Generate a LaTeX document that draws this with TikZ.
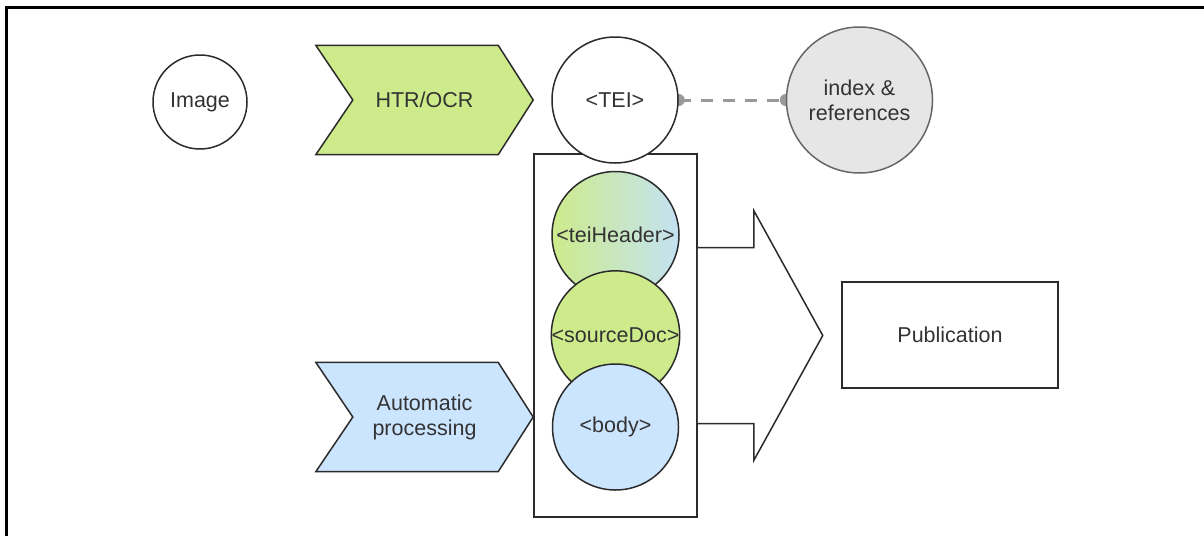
\documentclass[tikz,border=0pt]{standalone}
\usepackage{fontspec}
\setmainfont{Liberation Sans}
\usetikzlibrary{calc,backgrounds}
\definecolor{grn}{HTML}{CDEB8B}
\definecolor{blu}{HTML}{CCE5FF}
\definecolor{hblu}{HTML}{C4E2F2}
\definecolor{gry}{HTML}{E6E6E6}
\definecolor{txt}{HTML}{333333}
\definecolor{edge}{HTML}{2B2B2B}
\definecolor{gedge}{HTML}{666666}
\definecolor{dashc}{HTML}{999999}
\begin{document}
\begin{tikzpicture}[x=1pt,y=-1pt,line join=miter,
  every node/.style={font=\fontsize{21.5}{25}\selectfont, text=txt, align=center},
  circ/.style={circle, draw=edge, line width=1.5pt, inner sep=0pt, minimum size=#1},
  boxst/.style={rectangle, draw=edge, line width=1.5pt, fill=white, inner sep=0pt},
  chevtext/.style={rectangle, inner sep=0pt, minimum width=217pt, minimum height=109pt},
  chevline/.style={draw=edge, line width=1.5pt},
  dashconn/.style={draw=dashc, line width=3pt, dash pattern=on 12pt off 10pt}]
\useasboundingbox (0,0) rectangle (1204,536);
\draw[line width=3pt] (6,536) -- (6,7) -- (1204,7);

% top row
\node[circ=94pt, fill=white] (img) at (200,102) {Image};
\node[chevtext] (htr) at (424.5,100) {HTR/OCR};
\node[chevtext] (auto) at (424.5,417) {Automatic\\processing};

% container and TEI
\node[boxst, minimum width=163pt, minimum height=363pt] (box) at (615.5,335.5) {};
\node[circ=126pt, fill=white] (tei) at (615,100) {<TEI>};
\node[circ=146pt, fill=gry, draw=gedge] (idx) at (859.5,100) {index \&\\references};

% stacked elements
\node[circ=127pt, left color=grn, right color=hblu] (hdr) at (615.5,235) {<teiHeader>};
\node[circ=128pt, fill=grn] (src) at (615.5,335) {<sourceDoc>};
\node[circ=126pt, fill=blu] (body) at (615.5,427) {<body>};

% publication
\node[boxst, minimum width=216pt, minimum height=106pt] (pub) at (950,335) {Publication};

% big arrow
\filldraw[fill=white, draw=edge, line width=1.5pt]
  ($(box.east)+(0,-88)$) -- ++(56,0) -- ++(0,-37) -- ($(box.east)+(125,0)$)
  -- ($(box.east)+(56,125)$) -- ++(0,-37) -- ($(box.east)+(0,88)$);

\begin{pgfonlayer}{background}
  % chevrons
  \filldraw[chevline, fill=grn] (htr.north west) -- ([xshift=-35pt]htr.north east) -- (htr.east)
    -- ([xshift=-35pt]htr.south east) -- (htr.south west) -- ([xshift=37pt]htr.west) -- cycle;
  \filldraw[chevline, fill=blu] (auto.north west) -- ([xshift=-35pt]auto.north east) -- (auto.east)
    -- ([xshift=-35pt]auto.south east) -- (auto.south west) -- ([xshift=37pt]auto.west) -- cycle;
  % dashed connector
  \draw[dashconn] (tei.east) -- (idx.west);
  \fill[dashc] (tei.east) circle (6pt) (idx.west) circle (6pt);
\end{pgfonlayer}
\end{tikzpicture}
\end{document}
